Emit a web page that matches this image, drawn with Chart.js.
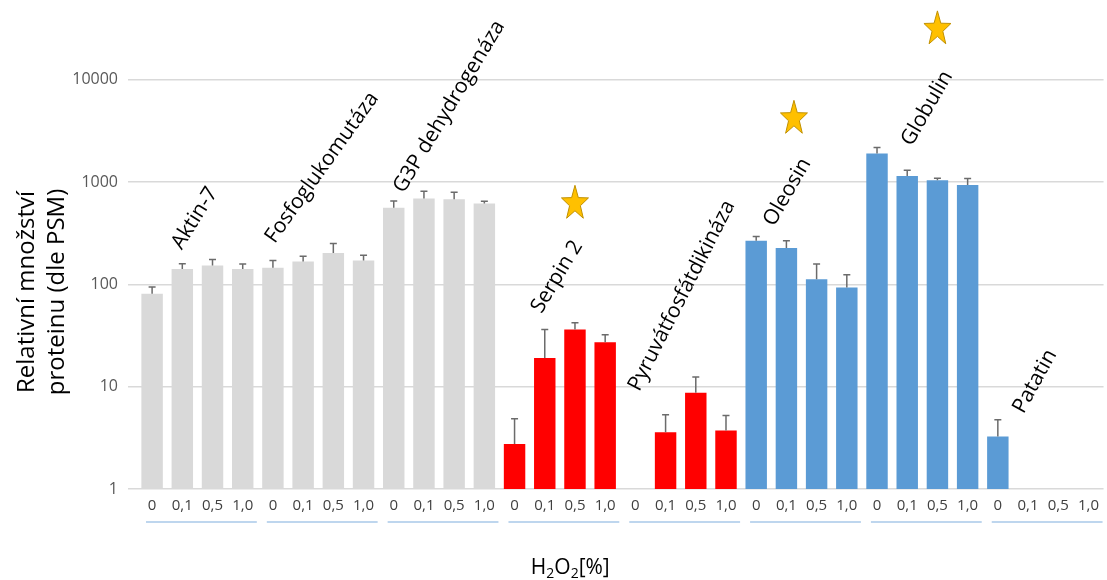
<!DOCTYPE html>
<html>
<head>
<meta charset="utf-8">
<script src="https://cdn.jsdelivr.net/npm/chart.js@4.4.1/dist/chart.umd.min.js"></script>
<style>
  html, body { margin: 0; padding: 0; background: #fff; }
  #wrap { width: 1107px; height: 580px; position: relative; }
</style>
</head>
<body>
<div id="wrap"><canvas id="myChart"></canvas></div>
<script>
// H2O2 doses (x tick labels), repeated for every protein
const doses = ['0', '0,1', '0,5', '1,0'];
const proteins = ['Aktin-7', 'Fosfoglukomutáza', 'G3P dehydrogenáza', 'Serpin 2',
  'Pyruvátfosfátdikináza', 'Oleosin', 'Globulin', 'Patatin'];

// mean PSM per protein and dose
const means = [
  [81, 141, 153, 141],
  [145, 167, 202, 171],
  [561, 688, 678, 615],
  [2.75, 19.1, 36.2, 27.2],
  [null, 3.58, 8.7, 3.72],
  [267, 226, 112, 93],
  [1897, 1145, 1040, 935],
  [3.25, null, null, null]
];
// upper error (sd)
const errs = [
  [13, 18, 22, 17],
  [26, 21, 48, 21],
  [91, 123, 115, 32],
  [2.1, 17.1, 5.9, 4.9],
  [null, 1.75, 3.7, 1.5],
  [27, 41, 46, 31],
  [275, 157, 47, 145],
  [1.5, null, null, null]
];
const groupColors = ['#d9d9d9', '#d9d9d9', '#d9d9d9', '#ff0000', '#ff0000', '#5b9bd5', '#5b9bd5', '#5b9bd5'];
const yTicks = [1, 10, 100, 1000, 10000];

// where the rotated protein names start (category index, value) and their angle
const nameCat = [0.98, 4.06, 8.33, 12.89, 16.13, 20.59, 25.15, 28.85];
const nameValue = [214, 247, 763, 51, 8.8, 362, 2200, 5.35];
const nameAngle = [58, 54.5, 59, 59, 63, 60, 60, 61];
// significance stars (category index, value)
const starCat = [14, 21.25, 26];
const starValue = [640, 4330, 32400];

const labels = [];
const values = [];
const errors = [];
const colors = [];
proteins.forEach((p, g) => {
  doses.forEach((d, k) => {
    labels.push(d);
    values.push(means[g][k]);
    errors.push(errs[g][k]);
    colors.push(groupColors[g]);
  });
});

const FONT = "'Open Sans', 'Noto Sans', 'DejaVu Sans', sans-serif";

function drawStar(ctx, cx, cy, rx, ry) {
  ctx.beginPath();
  for (let i = 0; i < 10; i++) {
    const a = -Math.PI / 2 + i * Math.PI / 5;
    const r = i % 2 ? 0.4 : 1;
    const px = cx + Math.cos(a) * rx * r;
    const py = cy + Math.sin(a) * ry * r;
    if (i === 0) ctx.moveTo(px, py); else ctx.lineTo(px, py);
  }
  ctx.closePath();
  ctx.fillStyle = '#ffc000';
  ctx.fill();
  ctx.strokeStyle = '#c09000';
  ctx.lineWidth = 1;
  ctx.stroke();
}

const extras = {
  id: 'extras',
  afterDatasetsDraw(chart) {
    const ctx = chart.ctx;
    const x = chart.scales.x;
    const y = chart.scales.y;
    const area = chart.chartArea;
    const meta = chart.getDatasetMeta(0);
    const catW = x.getPixelForValue(1) - x.getPixelForValue(0);

    // error bars
    ctx.save();
    ctx.strokeStyle = '#6b6b6b';
    ctx.lineWidth = 1.5;
    meta.data.forEach((el, i) => {
      if (values[i] == null || errors[i] == null) return;
      const top = y.getPixelForValue(values[i] + errors[i]);
      ctx.beginPath();
      ctx.moveTo(el.x, el.y);
      ctx.lineTo(el.x, top);
      ctx.moveTo(el.x - 3.5, top);
      ctx.lineTo(el.x + 3.5, top);
      ctx.stroke();
    });
    ctx.restore();

    // group underlines
    ctx.save();
    ctx.strokeStyle = '#a9c8e8';
    ctx.lineWidth = 1.5;
    proteins.forEach((p, g) => {
      const x0 = x.getPixelForValue(g * 4) - catW / 2 + 9;
      const x1 = x.getPixelForValue(g * 4 + 3) + catW / 2 - 1;
      ctx.beginPath();
      ctx.moveTo(x0, 522);
      ctx.lineTo(x1, 522);
      ctx.stroke();
    });
    ctx.restore();

    // rotated protein names
    ctx.save();
    ctx.fillStyle = '#000';
    ctx.font = '21px ' + FONT;
    ctx.textAlign = 'left';
    ctx.textBaseline = 'alphabetic';
    proteins.forEach((p, g) => {
      const px = x.getPixelForValue(0) + nameCat[g] * catW;
      const py = y.getPixelForValue(nameValue[g]);
      ctx.save();
      ctx.translate(px, py);
      ctx.rotate(-nameAngle[g] * Math.PI / 180);
      ctx.fillText(p, 0, 0);
      ctx.restore();
    });
    ctx.restore();

    // stars
    ctx.save();
    starCat.forEach((c, i) => {
      const px = x.getPixelForValue(0) + c * catW;
      const py = y.getPixelForValue(starValue[i]);
      drawStar(ctx, px, py + 1.7, 14.2, 18.2);
    });
    ctx.restore();

    // y title (two lines)
    ctx.save();
    ctx.fillStyle = '#000';
    ctx.font = '24px ' + FONT;
    ctx.textAlign = 'center';
    ctx.textBaseline = 'middle';
    ctx.translate(0, 292);
    ctx.rotate(-Math.PI / 2);
    ctx.fillText('Relativní množství', 0, 27);
    ctx.fillText('proteinu (dle PSM)', 0, 57);
    ctx.restore();

    // x title H2O2[%] with subscripts
    ctx.save();
    ctx.fillStyle = '#000';
    ctx.textBaseline = 'alphabetic';
    const parts = [['H', false], ['2', true], ['O', false], ['2', true], ['[%]', false]];
    const big = '21px ' + FONT;
    const small = '14px ' + FONT;
    let w = 0;
    parts.forEach(([t, sub]) => { ctx.font = sub ? small : big; w += ctx.measureText(t).width; });
    let cx = (area.left + area.right) / 2 - 50 - w / 2;
    parts.forEach(([t, sub]) => {
      ctx.font = sub ? small : big;
      ctx.fillText(t, cx, sub ? 578 : 574);
      cx += ctx.measureText(t).width;
    });
    ctx.restore();
  }
};

const myChart = new Chart(document.getElementById('myChart'), {
  type: 'bar',
  data: {
    labels: labels,
    datasets: [{
      data: values,
      backgroundColor: colors,
      borderWidth: 0,
      barPercentage: 0.71,
      categoryPercentage: 1
    }]
  },
  options: {
    responsive: true,
    maintainAspectRatio: false,
    animation: false,
    layout: { padding: { left: 0, right: 2, top: 0, bottom: 0 } },
    plugins: {
      legend: { display: false },
      tooltip: { enabled: false }
    },
    scales: {
      x: {
        grid: { display: false, drawTicks: false },
        border: { display: false },
        ticks: {
          color: '#404040',
          font: { size: 15, family: FONT },
          padding: 8,
          autoSkip: false,
          maxRotation: 0
        },
        afterFit(scale) { scale.height = 91; }
      },
      y: {
        type: 'logarithmic',
        min: 1,
        max: 60000,
        grid: { color: '#d9d9d9', lineWidth: 1.5, tickLength: 9 },
        border: { display: false },
        ticks: {
          color: '#595959',
          font: { size: 16, family: FONT },
          padding: 10,
          callback: v => String(v)
        },
        afterBuildTicks(scale) {
          scale.ticks = yTicks.map(v => ({ value: v }));
        },
        afterFit(scale) {
          scale.width = 137;
          scale.paddingTop = 0;
          scale.paddingBottom = 0;
        }
      }
    }
  },
  plugins: [extras]
});
</script>
</body>
</html>
